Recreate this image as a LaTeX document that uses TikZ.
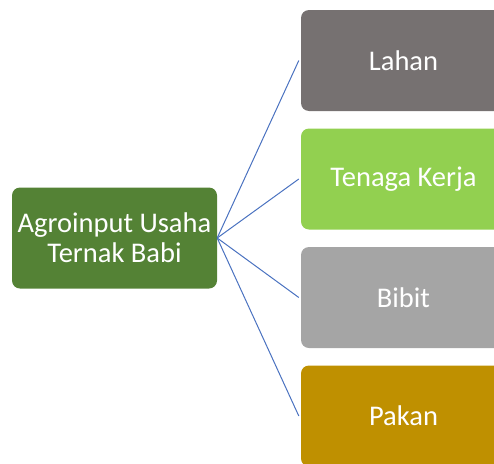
\documentclass[tikz,border=0pt]{standalone}
\usepackage{fontspec}
\setmainfont{Carlito}
\usetikzlibrary{positioning}
\definecolor{agrogreen}{HTML}{548235}
\definecolor{lahangray}{HTML}{767171}
\definecolor{kerjagreen}{HTML}{92D050}
\definecolor{bibitgray}{HTML}{A5A5A5}
\definecolor{pakangold}{HTML}{BF9000}
\definecolor{linkblue}{HTML}{4A72C0}
\tikzstyle{item} = [rectangle, rounded corners=8pt, minimum width=205pt, minimum height=101pt, text centered, text=white, font=\fontsize{28.5}{30}\selectfont, align=center, inner sep=0pt]
\tikzstyle{root} = [item, fill=agrogreen]
\tikzstyle{link} = [linkblue, line width=1pt]

\begin{document}
\begin{tikzpicture}[x=1pt, y=1pt, node distance=118.5pt]
\useasboundingbox (0,0) rectangle (494,-463);
\clip (0,0) rectangle (494,-463);

\node (agro) [root] at (114.5,-238) {Agroinput Usaha\\Ternak Babi};
\node (lahan) [item, fill=lahangray] at (403.5,-60.5) {Lahan};
\node (kerja) [item, fill=kerjagreen, below of=lahan] {Tenaga Kerja};
\node (bibit) [item, fill=bibitgray, below of=kerja] {Bibit};
\node (pakan) [item, fill=pakangold, below of=bibit] {Pakan};

\draw [link] (agro.east) -- ([xshift=-2pt]lahan.west);
\draw [link] (agro.east) -- ([xshift=-2pt]kerja.west);
\draw [link] (agro.east) -- ([xshift=-2pt]bibit.west);
\draw [link] (agro.east) -- ([xshift=-2pt]pakan.west);

\end{tikzpicture}
\end{document}
